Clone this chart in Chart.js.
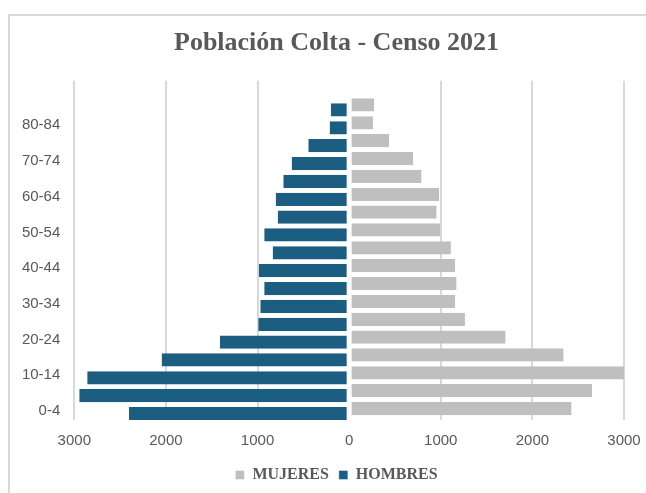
<!DOCTYPE html>
<html lang="es">
<head>
    <meta charset="UTF-8">
    <title>Población Colta - Censo 2021</title>
    <style>
        html, body {
            margin: 0;
            padding: 0;
            background: #ffffff;
        }

        .wrap {
            position: relative;
            width: 646px;
            height: 493px;
            overflow: hidden;
        }

        .frame {
            position: absolute;
            left: 8px;
            top: 14px;
            width: 700px;
            height: 600px;
            border-top: 2px solid #d9d9d9;
            border-left: 2px solid #d9d9d9;
        }

        canvas {
            position: absolute;
            left: 0;
            top: 0;
        }
    </style>
</head>
<body>
    <div class="wrap">
        <div class="frame"></div>
        <canvas id="pyramid" width="646" height="493"></canvas>
    </div>

    <script src="https://cdn.jsdelivr.net/npm/chart.js@4/dist/chart.umd.min.js"></script>
    <script>
        // age groups, bottom (0-4) to top; the last slot is empty in the original chart
        const ageGroups = ['0-4', '5-9', '10-14', '15-19', '20-24', '25-29', '30-34', '35-39', '40-44',
                           '45-49', '50-54', '55-59', '60-64', '65-69', '70-74', '75-79', '80-84', '85+', ''];

        const mujeres = [2428, 2653, 3010, 2341, 1708, 1264, 1158, 1173, 1158,
                         1111, 994, 955, 983, 791, 700, 438, 260, 274, null];

        const hombres = [2403, 2946, 2859, 2047, 1410, 992, 970, 927, 985,
                         835, 927, 780, 802, 719, 628, 446, 213, 199, null];

        const xTicks = [-3000, -2000, -1000, 0, 1000, 2000, 3000];

        const grey = '#bfbfbf';
        const blue = '#1b5e82';
        const textColor = '#595959';

        // the age labels reach into the left padding, so widen the label clip box
        const labelRoom = {
            id: 'labelRoom',
            afterLayout(chart) {
                chart.scales.y.left = 0;
            }
        };

        new Chart(document.getElementById('pyramid'), {
            type: 'bar',
            data: {
                labels: ageGroups,
                datasets: [
                    {
                        label: 'MUJERES',
                        data: mujeres,
                        backgroundColor: grey,
                        borderColor: '#ffffff',
                        borderWidth: { top: 0, right: 0, bottom: 0, left: 1.5 },
                        borderSkipped: false
                    },
                    {
                        label: 'HOMBRES',
                        data: hombres.map(v => v == null ? null : -v),
                        backgroundColor: blue,
                        borderColor: '#ffffff',
                        borderWidth: { top: 0, right: 1.5, bottom: 0, left: 0 },
                        borderSkipped: false
                    }
                ]
            },
            options: {
                indexAxis: 'y',
                responsive: false,
                animation: false,
                categoryPercentage: 0.56,
                barPercentage: 2.65,
                layout: {
                    padding: { left: 27, right: 0, top: 0, bottom: 0 }
                },
                scales: {
                    x: {
                        min: xTicks[0],
                        max: xTicks[xTicks.length - 1],
                        afterBuildTicks: s => { s.ticks = xTicks.map(v => ({ value: v })); },
                        afterFit: s => { s.height = 37; s.paddingRight = 22; s.paddingLeft = 0; },
                        border: { display: false },
                        grid: {
                            drawTicks: false,
                            lineWidth: 2,
                            color: ctx => ctx.tick && ctx.tick.value === 0 ? 'rgba(0,0,0,0)' : '#d9d9d9'
                        },
                        ticks: {
                            padding: 12,
                            color: textColor,
                            font: { family: '"Liberation Sans", Arial, sans-serif', size: 15 },
                            callback: v => Math.abs(v)
                        }
                    },
                    y: {
                        reverse: true,
                        afterFit: s => { s.width = 47.3; },
                        border: { display: false },
                        grid: { display: false, drawTicks: false },
                        ticks: {
                            autoSkip: false,
                            padding: 14,
                            color: textColor,
                            font: { family: '"Liberation Sans", Arial, sans-serif', size: 15 },
                            callback: function (v, i) {
                                return i % 2 === 0 ? this.getLabelForValue(v) : '';
                            }
                        }
                    }
                },
                plugins: {
                    title: {
                        display: true,
                        text: 'Población Colta - Censo 2021',
                        color: textColor,
                        font: { family: '"Liberation Serif", "Times New Roman", serif', size: 26, weight: 'bold' },
                        padding: { top: 28, bottom: 21.5 }
                    },
                    legend: {
                        position: 'bottom',
                        labels: {
                            boxWidth: 9,
                            boxHeight: 9,
                            padding: 10,
                            color: textColor,
                            font: { family: '"Liberation Serif", "Times New Roman", serif', size: 16, weight: 'bold' }
                        }
                    },
                    tooltip: { enabled: false }
                }
            },
            plugins: [labelRoom]
        });
    </script>
</body>
</html>
